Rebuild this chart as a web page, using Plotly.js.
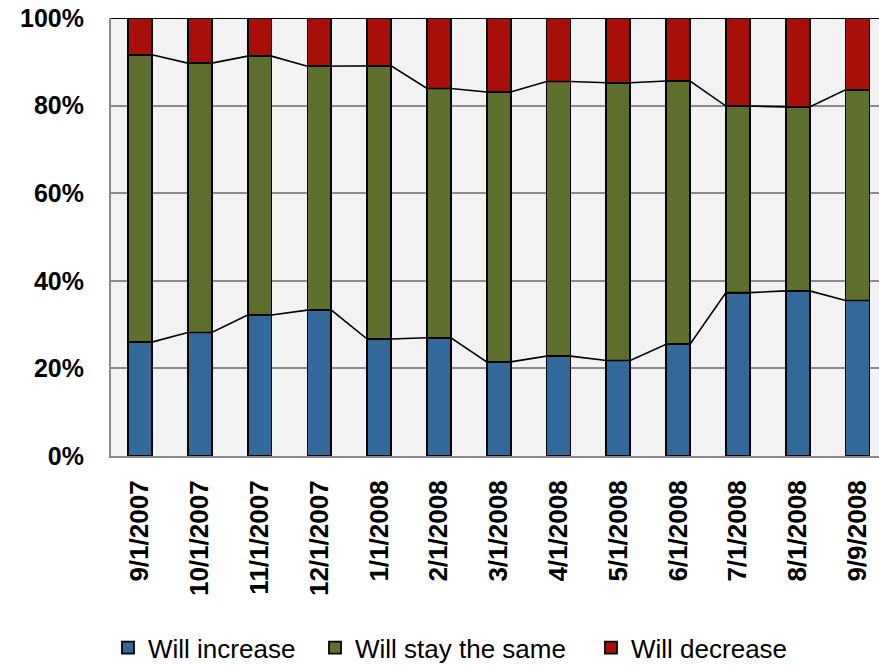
<!DOCTYPE html>
<html>
<head>
<meta charset="utf-8">
<script src="https://cdn.plot.ly/plotly-3.0.1.min.js"></script>
<style>html,body{margin:0;padding:0;background:#fff;}#chart{width:879px;height:665px;}</style>
</head>
<body>
<div id="chart"></div>
<script>
const categories = ['9/1/2007','10/1/2007','11/1/2007','12/1/2007','1/1/2008','2/1/2008','3/1/2008','4/1/2008','5/1/2008','6/1/2008','7/1/2008','8/1/2008','9/9/2008'];
const willIncrease = [26.0, 28.2, 32.2, 33.3, 26.7, 27.0, 21.5, 22.8, 21.8, 25.5, 37.3, 37.7, 35.5];
const willStaySame = [65.6, 61.5, 59.1, 55.7, 62.4, 56.9, 61.6, 62.7, 63.4, 60.1, 42.6, 42.0, 48.1];
const willDecrease = [8.4, 10.3, 8.7, 11.0, 10.9, 16.1, 16.9, 14.5, 14.8, 14.4, 20.1, 20.3, 16.4];
const seriesNames = ['Will increase', 'Will stay the same', 'Will decrease'];
const seriesColors = ['#33699A', '#5E6E2D', '#A80F08'];

const xs = categories.map((c, i) => i);
const barW = 0.4;
const font = 'Arial, "Liberation Sans", sans-serif';
const legendIds = ['legend', 'legend2', 'legend3'];
const legendX = [108, 315, 591];

const traces = [willIncrease, willStaySame, willDecrease].map((vals, k) => ({
  type: 'bar', x: xs, y: vals, name: seriesNames[k], width: barW, legend: legendIds[k],
  marker: {color: seriesColors[k], line: {color: '#000', width: 1.8}},
  hoverinfo: 'skip'
}));

// series lines connecting the tops of the stacked segments
function seriesLine(tops) {
  const lx = [], ly = [];
  tops.forEach((v, i) => { lx.push(i - barW / 2, i + barW / 2); ly.push(v, v); });
  return {type: 'scatter', mode: 'lines', x: lx, y: ly, showlegend: false,
          line: {color: '#000', width: 1.6}, hoverinfo: 'skip'};
}
const topInc = willIncrease.slice();
const topSame = willIncrease.map((v, i) => v + willStaySame[i]);
traces.push(seriesLine(topInc));
traces.push(seriesLine(topSame));

const layout = {
  width: 879, height: 665,
  margin: {l: 111, r: 0, t: 18, b: 209, autoexpand: false},
  paper_bgcolor: '#ffffff', plot_bgcolor: '#F2F2F2',
  barmode: 'stack',
  showlegend: true,
  xaxis: {
    type: 'linear', range: [-0.485, 12.36], tickvals: xs, ticktext: categories,
    tickangle: -90, tickfont: {family: font, size: 26, color: '#000', weight: 'bold'},
    showgrid: false, zeroline: false, showline: true, linecolor: '#8C8C8C', linewidth: 2,
    ticks: '', ticklabelstandoff: 12, fixedrange: true, automargin: false
  },
  yaxis: {
    range: [0, 100], tickvals: [0, 20, 40, 60, 80, 100], ticktext: ['0%','20%','40%','60%','80%','100%'],
    tickfont: {family: font, size: 25, color: '#000', weight: 'bold'},
    showgrid: true, gridcolor: '#8C8C8C', gridwidth: 2, zeroline: false,
    showline: true, linecolor: '#8C8C8C', linewidth: 2,
    ticks: '', ticklabelstandoff: 20, fixedrange: true, automargin: false
  },
  shapes: [{type: 'line', xref: 'paper', yref: 'y', x0: 0, x1: 1, y0: 100, y1: 100,
            line: {color: '#000', width: 2}}]
};
legendIds.forEach((id, k) => {
  layout[id] = {orientation: 'h', xref: 'container', yref: 'container',
    x: legendX[k] / 879, xanchor: 'left', y: 0.026, yanchor: 'middle',
    font: {family: font, size: 26, color: '#000'}, itemwidth: 30,
    bgcolor: 'rgba(0,0,0,0)'};
});

Plotly.newPlot('chart', traces, layout, {displayModeBar: false, staticPlot: true});
</script>
</body>
</html>
